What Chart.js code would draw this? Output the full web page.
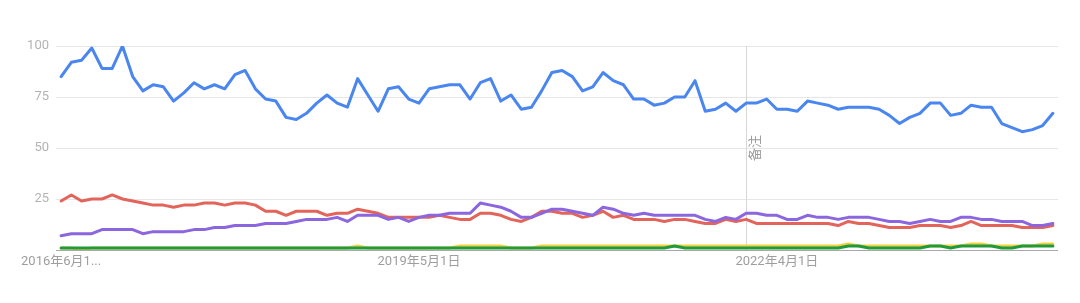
<!DOCTYPE html>
<html>
<head>
<meta charset="utf-8">
<script src="https://cdn.jsdelivr.net/npm/chart.js@4.4.1/dist/chart.umd.min.js"></script>
<style>
html,body{margin:0;padding:0;background:#fff;}
canvas{display:block;}
</style>
</head>
<body>
<canvas id="c" width="1080" height="303"></canvas>
<script>
// ---- data ----
const startYear = 2016, startMonth = 6, monthCount = 98;
const months = [];
for (let i = 0; i < monthCount; i++) {
  const m = startMonth - 1 + i;
  months.push((startYear + Math.floor(m / 12)) + '-' + String(m % 12 + 1).padStart(2, '0'));
}

const blueSeries = [
  85,92,93,99,89,89,100,85,78,81,80,73,77,82,79,81,79,86,88,79,74,73,65,64,67,72,76,72,70,84,
  76,68,79,80,74,72,79,80,81,81,74,82,84,73,76,69,70,78,87,88,85,78,80,87,83,81,74,74,71,72,75,75,83,68,69,
  72,68,72,72,74,69,69,68,73,72,71,69,70,70,70,69,66,62,65,67,72,72,66,67,71,70,70,62,60,58,59,61,67
];
const redSeries = [
  24,27,24,25,25,27,25,24,23,22,22,21,22,22,23,23,22,23,23,22,19,19,17,19,19,19,17,18,18,20,
  19,18,16,16,16,16,16,17,16,15,15,18,18,17,15,14,16,19,19,18,18,16,17,19,16,17,15,15,15,14,15,15,14,13,13,
  15,14,15,13,13,13,13,13,13,13,13,12,14,13,13,12,11,11,11,12,12,12,11,12,14,12,12,12,12,11,11,11,12
];
const purpleSeries = [
  7,8,8,8,10,10,10,10,8,9,9,9,9,10,10,11,11,12,12,12,13,13,13,14,15,15,15,16,14,17,
  17,17,15,16,14,16,17,17,18,18,18,23,22,21,19,16,16,18,20,20,19,18,17,21,20,18,17,18,17,17,17,17,17,15,14,
  16,15,18,18,17,17,15,15,17,16,16,15,16,16,16,15,14,14,13,14,15,14,14,16,16,15,15,14,14,14,12,12,13
];
const yellowSeries = [
  1,1,0,1,1,1,1,1,1,1,1,1,1,1,1,1,1,1,1,1,1,1,1,1,1,1,1,1,1,2,
  1,1,1,1,1,1,1,1,1,2,2,2,2,2,1,1,1,2,2,2,2,2,2,2,2,2,2,2,2,2,2,2,2,2,2,
  2,2,2,2,2,2,2,2,2,2,2,2,3,2,2,2,2,2,2,2,2,2,2,2,3,3,2,2,2,2,2,3,3
];
const greenSeries = [
  1,1,1,1,1,1,1,1,1,1,1,1,1,1,1,1,1,1,1,1,1,1,1,1,1,1,1,1,1,1,
  1,1,1,1,1,1,1,1,1,1,1,1,1,1,1,1,1,1,1,1,1,1,1,1,1,1,1,1,1,1,2,1,1,1,1,
  1,1,1,1,1,1,1,1,1,1,1,1,2,2,1,1,1,1,1,1,2,2,1,2,2,2,2,1,1,2,2,2,2
];

const xTickIndex = [0, 35, 70];
const xTickText = ['2016年6月1...', '2019年5月1日', '2022年4月1日'];
const yTicks = [0, 25, 50, 75, 100];
const noteIndex = 67;
const noteText = '备注';

// ---- chart ----
const notePlugin = {
  id: 'note',
  beforeDatasetsDraw(chart) {
    const ctx = chart.ctx, a = chart.chartArea;
    const x = Math.round(chart.scales.x.getPixelForValue(noteIndex)) + 0.5;
    ctx.save();
    ctx.strokeStyle = '#d6d6d6';
    ctx.lineWidth = 1;
    ctx.beginPath();
    ctx.moveTo(x, a.top);
    ctx.lineTo(x, a.bottom);
    ctx.stroke();
    ctx.translate(x + 8, (a.top + a.bottom) / 2);
    ctx.rotate(-Math.PI / 2);
    ctx.fillStyle = '#9a9a9a';
    ctx.font = '13px "Noto Sans CJK SC", Roboto, sans-serif';
    ctx.textAlign = 'center';
    ctx.textBaseline = 'middle';
    ctx.fillText(noteText, 0, 0);
    ctx.restore();
  }
};

const mk = (data, color, order) => ({
  data, borderColor: color, backgroundColor: color, borderWidth: 3,
  pointRadius: 0, tension: 0, borderJoinStyle: 'round', borderCapStyle: 'round', order, fill: false
});

new Chart(document.getElementById('c'), {
  type: 'line',
  data: {
    labels: months,
    datasets: [
      mk(blueSeries, '#4a86ef', 4),
      mk(redSeries, '#e3645a', 3),
      mk(yellowSeries, '#f2d23c', 2),
      mk(greenSeries, '#1f9a3e', 1),
      mk(purpleSeries, '#8b66df', 0)
    ]
  },
  options: {
    responsive: false,
    animation: false,
    layout: { padding: { top: 46, right: 22, left: 0, bottom: 0 } },
    plugins: { legend: { display: false }, tooltip: { enabled: false } },
    scales: {
      x: {
        type: 'category',
        offset: true,
        grid: { display: false, drawTicks: false },
        border: { display: false },
        afterFit(s) { s.height = 53; },
        ticks: {
          autoSkip: false, maxRotation: 0, minRotation: 0, padding: 4,
          color: '#9e9e9e',
          font: { family: 'Roboto, "Noto Sans CJK SC", sans-serif', size: 13 },
          callback(v, i) { const k = xTickIndex.indexOf(i); return k >= 0 ? xTickText[k] : ''; }
        }
      },
      y: {
        min: 0, max: 100,
        afterBuildTicks(s) { s.ticks = yTicks.map(v => ({ value: v })); },
        afterFit(s) { s.width = 56; },
        grid: {
          drawTicks: false,
          color: c => (c.tick && c.tick.value === 0) ? '#a8a8a8' : '#e6e6e6',
          lineWidth: 1
        },
        border: { display: false },
        ticks: {
          padding: 7,
          color: '#b3b3b3',
          font: { family: 'Roboto, sans-serif', size: 13 },
          callback(v) { return v === 0 ? '' : String(v); }
        }
      }
    }
  },
  plugins: [notePlugin]
});
</script>
</body>
</html>
